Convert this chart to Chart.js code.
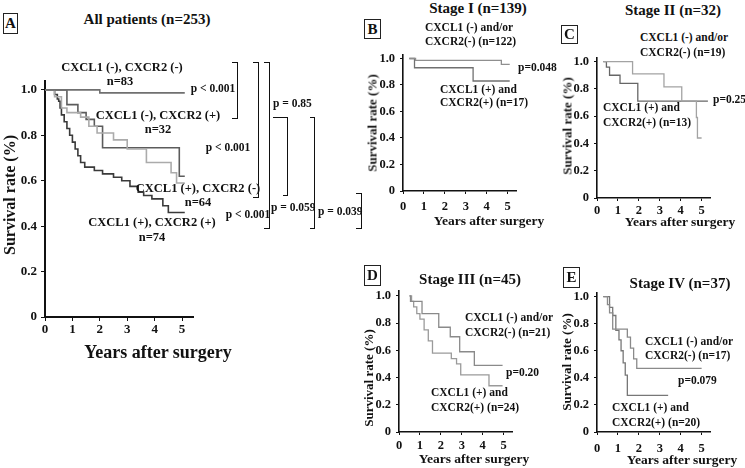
<!DOCTYPE html>
<html>
<head>
<meta charset="utf-8">
<script src="https://cdn.jsdelivr.net/npm/chart.js@4.4.1/dist/chart.umd.min.js"></script>
<style>
  html, body { margin: 0; padding: 0; background: #fff; }
  #fig { position: relative; width: 745px; height: 468px; overflow: hidden;
         font-family: "Liberation Serif", "Times New Roman", serif; font-weight: bold; color: #111; }
  #fig canvas { position: absolute; }
  .t { position: absolute; white-space: nowrap; line-height: 1; transform: translateY(-50%); }
  .t.mid { transform: translate(-50%, -50%); }
  .t.rot { transform: translate(-50%, -50%) rotate(-90deg); }
  .box { position: absolute; border: 1px solid #222; box-sizing: border-box; display: flex;
         align-items: center; justify-content: center; font-size: 15px; }
  .ln { position: absolute; background: #111; }
</style>
</head>
<body>
<div id="fig"></div>
<script>
// ---- shared axes ----
const years = [0, 1, 2, 3, 4, 5];
const yearLabels = ['0', '1', '2', '3', '4', '5'];
const survTicks = [0, 0.2, 0.4, 0.6, 0.8, 1.0];
const survLabels = ['0', '0.2', '0.4', '0.6', '0.8', '1.0'];

// ---- A: all patients (years, survival) ----
const aNegNegT = [0, 2.0, 5.1];
const aNegNegS = [1, 0.987, 0.987];
const aNegPosT = [0, 0.8, 1.2, 1.5, 1.8, 2.1, 4.9, 5.1];
const aNegPosS = [1, 0.935, 0.90, 0.87, 0.84, 0.745, 0.62, 0.62];
const aPosNegT = [0, 0.35, 0.6, 0.8, 1.3, 1.6, 1.9, 2.5, 3.0, 3.7, 4.6, 4.8, 5.1];
const aPosNegS = [1, 0.97, 0.92, 0.90, 0.88, 0.84, 0.81, 0.78, 0.74, 0.68, 0.635, 0.59, 0.59];
const aPosPosT = [0, 0.35, 0.45, 0.5, 0.55, 0.6, 0.7, 0.8, 0.9, 1.0, 1.1, 1.2, 1.3, 1.45, 1.8, 2.1, 2.5, 2.8, 3.1, 3.4, 3.6, 3.9, 4.3, 4.5, 5.1];
const aPosPosS = [1, 0.98, 0.96, 0.95, 0.92, 0.89, 0.86, 0.83, 0.80, 0.77, 0.74, 0.71, 0.68, 0.66, 0.645, 0.63, 0.615, 0.60, 0.575, 0.55, 0.535, 0.52, 0.49, 0.46, 0.46];

// ---- B: stage I ----
const bNegT = [0.3, 0.6, 4.7, 5.1];
const bNegS = [1, 0.985, 0.955, 0.955];
const bPosT = [0.3, 0.55, 3.35, 5.1];
const bPosS = [1, 0.93, 0.83, 0.83];

// ---- C: stage II ----
const cNegT = [0.3, 1.7, 3.2, 4.05, 4.75, 4.8, 5.0];
const cNegS = [1, 0.91, 0.815, 0.71, 0.59, 0.44, 0.44];
const cPosT = [0.3, 0.45, 0.6, 1.1, 1.95, 5.3];
const cPosS = [1, 0.96, 0.90, 0.84, 0.71, 0.71];

// ---- D: stage III ----
const dNegT = [0.5, 0.55, 1.1, 1.9, 2.45, 2.9, 3.6, 4.95];
const dNegS = [1, 0.96, 0.87, 0.77, 0.70, 0.59, 0.49, 0.49];
const dPosT = [0.5, 0.6, 0.7, 0.85, 1.0, 1.2, 1.4, 1.6, 2.5, 2.75, 2.95, 4.3, 4.95];
const dPosS = [1, 0.96, 0.92, 0.87, 0.83, 0.75, 0.67, 0.58, 0.54, 0.50, 0.42, 0.34, 0.34];

// ---- E: stage IV ----
const eNegT = [0.3, 0.5, 0.6, 0.75, 1.45, 1.6, 1.75, 1.9, 5.0];
const eNegS = [1, 0.94, 0.88, 0.76, 0.70, 0.62, 0.54, 0.47, 0.47];
const ePosT = [0.3, 0.6, 0.75, 0.9, 1.05, 1.15, 1.25, 1.35, 1.45, 3.4];
const ePosS = [1, 0.92, 0.86, 0.75, 0.68, 0.60, 0.51, 0.42, 0.27, 0.27];

const fig = document.getElementById('fig');
const FONT = '"Liberation Serif", "Times New Roman", serif';

function curve(t, s, color, width) {
  return {
    data: t.map((x, i) => ({ x, y: s[i] })),
    borderColor: color,
    borderWidth: width,
    stepped: 'before',
    pointRadius: 0,
    fill: false,
  };
}

// area = chart area edges in page pixels
function kmChart(area, datasets, o) {
  const padT = 8, padR = 6;
  const left = area.left - o.yW, top = area.top - padT;
  const w = area.right + padR - left, h = area.bottom + o.xH - top;
  const cv = document.createElement('canvas');
  cv.width = w; cv.height = h;
  cv.style.left = left + 'px'; cv.style.top = top + 'px';
  cv.style.width = w + 'px'; cv.style.height = h + 'px';
  fig.appendChild(cv);
  const tickFont = { family: FONT, weight: 'bold', size: o.fs };
  return new Chart(cv.getContext('2d'), {
    type: 'line',
    data: { datasets },
    options: {
      responsive: false,
      animation: false,
      events: [],
      layout: { padding: { top: padT, right: padR, left: 0, bottom: 0 } },
      plugins: { legend: { display: false }, tooltip: { enabled: false } },
      scales: {
        x: {
          type: 'linear', min: 0, max: o.xMax,
          afterBuildTicks: s => { s.ticks = years.map(v => ({ value: v })); },
          afterFit: s => { s.height = o.xH; },
          grid: { drawOnChartArea: false, drawTicks: true, tickLength: o.tl, color: '#111', tickColor: '#111' },
          border: { color: '#111', width: o.bw },
          ticks: { color: '#111', font: tickFont, padding: o.xPad, maxRotation: 0, autoSkip: false,
                   callback: v => yearLabels[years.indexOf(v)] },
        },
        y: {
          type: 'linear', min: 0, max: o.yMax,
          afterBuildTicks: s => { s.ticks = survTicks.map(v => ({ value: v })); },
          afterFit: s => { s.width = o.yW; },
          grid: { drawOnChartArea: false, drawTicks: true, tickLength: o.tl, color: '#111', tickColor: '#111' },
          border: { color: '#111', width: o.bw },
          ticks: { color: '#111', font: tickFont, padding: o.yPad, autoSkip: false,
                   callback: v => survLabels[survTicks.indexOf(v)] },
        },
      },
    },
  });
}

// ---- text helpers ----
function txt(s, x, y, size, cls) {
  const d = document.createElement('div');
  d.className = 't' + (cls ? ' ' + cls : '');
  d.textContent = s;
  d.style.left = x + 'px'; d.style.top = y + 'px'; d.style.fontSize = size + 'px';
  fig.appendChild(d);
}
function box(letter, x, y, w, h) {
  const d = document.createElement('div');
  d.className = 'box';
  d.textContent = letter;
  Object.assign(d.style, { left: x + 'px', top: y + 'px', width: w + 'px', height: h + 'px' });
  fig.appendChild(d);
}
function line(x, y, w, h) {
  const d = document.createElement('div');
  d.className = 'ln';
  Object.assign(d.style, { left: x + 'px', top: y + 'px', width: w + 'px', height: h + 'px' });
  fig.appendChild(d);
}
// right bracket "]" : vertical at x from y1 to y2, ticks pointing left
function bracket(x, y1, y2, topLen, botLen) {
  line(x, y1, 1.4, y2 - y1 + 1.4);
  line(x - topLen, y1, topLen, 1.4);
  line(x - botLen, y2, botLen, 1.4);
}

// ===== Panel A =====
kmChart({ left: 45, right: 193, top: 77, bottom: 317 }, [
  curve(aNegNegT, aNegNegS, '#707070', 1.6),
  curve(aPosNegT, aPosNegS, '#ababab', 1.6),
  curve(aNegPosT, aNegPosS, '#5c5c5c', 1.6),
  curve(aPosPosT, aPosPosS, '#3a3a3a', 1.6),
], { xMax: 5.4, yMax: 1.04, yW: 45, xH: 32, fs: 13, tl: 4, bw: 2, xPad: 1, yPad: 4 });

box('A', 3, 13, 15, 21);
txt('All patients (n=253)', 147, 19, 15, 'mid');
txt('CXCL1 (-), CXCR2 (-)', 122, 67, 12.5, 'mid');
txt('n=83', 120, 81, 12.5, 'mid');
txt('p < 0.001', 213, 89, 11.5, 'mid');
txt('CXCL1 (-), CXCR2 (+)', 158, 115, 12.5, 'mid');
txt('n=32', 158, 129, 12.5, 'mid');
txt('p < 0.001', 228, 148, 11.5, 'mid');
txt('CXCL1 (+), CXCR2 (-)', 198, 188, 12.5, 'mid');
txt('n=64', 198, 202, 12.5, 'mid');
txt('CXCL1 (+), CXCR2 (+)', 152, 222, 12.5, 'mid');
txt('n=74', 152, 237, 12.5, 'mid');
txt('p < 0.001', 248, 215, 11.5, 'mid');
txt('p = 0.85', 273, 104, 11.5);
txt('p = 0.059', 271, 208, 11.5);
txt('p = 0.039', 318, 212, 11.5);
txt('Survival rate (%)', 10, 195, 16, 'rot');
txt('Years after surgery', 158, 352, 18, 'mid');
bracket(237, 62, 118, 5, 5);
bracket(258, 62, 197, 5, 5);
bracket(269, 62, 228, 5, 5);
bracket(287, 117, 195, 14, 4);
bracket(314, 117, 228, 4, 4);
bracket(361, 193, 228, 5, 5);

// ===== Panel B =====
kmChart({ left: 403, right: 516, top: 50, bottom: 191 }, [
  curve(bNegT, bNegS, '#8f8f8f', 1.3),
  curve(bPosT, bPosS, '#707070', 1.3),
], { xMax: 5.4, yMax: 1.03, yW: 35, xH: 24, fs: 12.5, tl: 3, bw: 1.6, xPad: 5, yPad: 5 });
box('B', 364, 19, 17, 20);
txt('Stage I (n=139)', 478, 8, 15, 'mid');
txt('CXCL1 (-) and/or', 425, 28, 11.5);
txt('CXCR2(-) (n=122)', 425, 42, 11.5);
txt('p=0.048', 518, 68, 11.5);
txt('CXCL1 (+) and', 440, 90, 11.5);
txt('CXCR2(+) (n=17)', 440, 103, 11.5);
txt('Survival rate (%)', 372, 123, 13, 'rot');
txt('Years after surgery', 489, 221, 13.5, 'mid');

// ===== Panel C =====
kmChart({ left: 597, right: 710, top: 53, bottom: 198 }, [
  curve(cNegT, cNegS, '#a3a3a3', 1.3),
  curve(cPosT, cPosS, '#666666', 1.3),
], { xMax: 5.4, yMax: 1.03, yW: 35, xH: 24, fs: 12.5, tl: 3, bw: 1.6, xPad: 2, yPad: 5 });
box('C', 561, 25, 17, 19);
txt('Stage II (n=32)', 673, 10, 15, 'mid');
txt('CXCL1 (-) and/or', 640, 38, 11.5);
txt('CXCR2(-) (n=19)', 640, 53, 11.5);
txt('p=0.25', 713, 100, 11.5);
txt('CXCL1 (+) and', 603, 108, 11.5);
txt('CXCR2(+) (n=13)', 603, 123, 11.5);
txt('Survival rate (%)', 567, 126, 13, 'rot');
txt('Years after surgery', 680, 222, 13.5, 'mid');

// ===== Panel D =====
kmChart({ left: 399, right: 512, top: 286, bottom: 432 }, [
  curve(dNegT, dNegS, '#8a8a8a', 1.3),
  curve(dPosT, dPosS, '#9a9a9a', 1.3),
], { xMax: 5.4, yMax: 1.04, yW: 35, xH: 24, fs: 12.5, tl: 3, bw: 1.6, xPad: 3, yPad: 5 });
box('D', 364, 265, 17, 21);
txt('Stage III (n=45)', 470, 279, 15, 'mid');
txt('CXCL1 (-) and/or', 465, 318, 11.5);
txt('CXCR2(-) (n=21)', 465, 333, 11.5);
txt('p=0.20', 506, 373, 11.5);
txt('CXCL1 (+) and', 431, 393, 11.5);
txt('CXCR2(+) (n=24)', 431, 408, 11.5);
txt('Survival rate (%)', 368, 378, 13, 'rot');
txt('Years after surgery', 474, 459, 13.5, 'mid');

// ===== Panel E =====
kmChart({ left: 597, right: 710, top: 288, bottom: 432 }, [
  curve(eNegT, eNegS, '#8a8a8a', 1.3),
  curve(ePosT, ePosS, '#777777', 1.3),
], { xMax: 5.4, yMax: 1.03, yW: 35, xH: 24, fs: 12.5, tl: 3, bw: 1.6, xPad: 6, yPad: 5 });
box('E', 563, 267, 17, 21);
txt('Stage IV (n=37)', 680, 283, 15, 'mid');
txt('CXCL1 (-) and/or', 645, 342, 11.5);
txt('CXCR2(-) (n=17)', 645, 356, 11.5);
txt('p=0.079', 678, 381, 11.5);
txt('CXCL1 (+) and', 612, 408, 11.5);
txt('CXCR2(+) (n=20)', 612, 423, 11.5);
txt('Survival rate (%)', 566, 362, 13, 'rot');
txt('Years after surgery', 682, 460, 13.5, 'mid');
</script>
</body>
</html>
